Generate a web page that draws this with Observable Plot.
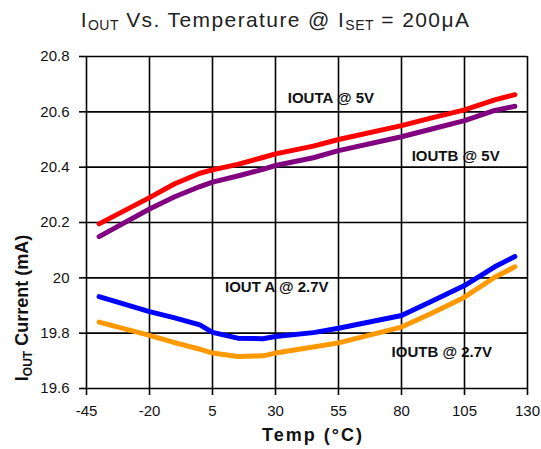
<!DOCTYPE html>
<html>
<head>
<meta charset="utf-8">
<script src="https://cdn.jsdelivr.net/npm/d3@7"></script>
<script src="https://cdn.jsdelivr.net/npm/@observablehq/plot@0.6"></script>
<style>
  html, body { margin: 0; padding: 0; background: #fff; }
  #wrap { width: 541px; }
  #title { box-sizing: border-box; height: 40px; padding-top: 9px; line-height: 21px;
    font-family: "Liberation Sans", Arial, sans-serif; font-size: 21px; color: #222;
    letter-spacing: 1.4px; text-align: center; padding-left: 10px; white-space: nowrap; }
  #title .sub { font-size: 14px; vertical-align: -3px; letter-spacing: 0.5px; }
</style>
</head>
<body>
<div id="wrap">
  <div id="title">I<span class="sub">OUT</span> Vs. Temperature @ I<span class="sub">SET</span> = 200μA</div>
  <div id="chart"></div>
</div>
<script>
const temps = [-40, -20, -10, 0, 5, 15, 25, 30, 45, 55, 80, 92, 105, 117, 125];
const ioutA5  = [20.195, 20.29, 20.34, 20.378, 20.39, 20.41, 20.435, 20.448, 20.476, 20.50, 20.55, 20.578, 20.607, 20.643, 20.662];
const ioutB5  = [20.149, 20.249, 20.293, 20.33, 20.346, 20.368, 20.392, 20.406, 20.434, 20.46, 20.51, 20.538, 20.568, 20.605, 20.62];
const ioutA27 = [19.932, 19.878, 19.855, 19.83, 19.803, 19.782, 19.78, 19.788, 19.802, 19.818, 19.864, 19.915, 19.972, 20.04, 20.077];
const ioutB27 = [19.84, 19.792, 19.766, 19.742, 19.728, 19.716, 19.718, 19.728, 19.75, 19.765, 19.822, 19.872, 19.93, 20.002, 20.04];
const seriesNames = ["IOUTA @ 5V", "IOUTB @ 5V", "IOUT A @ 2.7V", "IOUTB @ 2.7V"];
const seriesColors = ["#ff0000", "#800080", "#0000ff", "#ff9900"];
const seriesValues = [ioutA5, ioutB5, ioutA27, ioutB27];
const xTicks = [-45, -20, 5, 30, 55, 80, 105, 130];
const xTickLabels = ["-45", "-20", "5", "30", "55", "80", "105", "130"];
const yTicks = [19.6, 19.8, 20.0, 20.2, 20.4, 20.6, 20.8];
const yTickLabels = ["19.6", "19.8", "20", "20.2", "20.4", "20.6", "20.8"];
// annotation label positions (data coords)
const labelTemps = [52, 101.5, 30.5, 96];
const labelValues = [20.648, 20.438, 19.965, 19.733];

const data = seriesNames.flatMap((name, s) =>
  temps.map((t, i) => ({t, v: seriesValues[s][i], name, color: seriesColors[s]})));
const labels = seriesNames.map((name, i) => ({name, t: labelTemps[i], v: labelValues[i]}));

const svg = Plot.plot({
  width: 541, height: 409,
  marginTop: 16, marginBottom: 61, marginLeft: 86, marginRight: 14,
  style: {fontFamily: "'Liberation Sans', Arial, sans-serif", fontSize: "15px", color: "#000", background: "#fff"},
  x: {domain: [-45, 130]},
  y: {domain: [19.6, 20.8]},
  color: {type: "identity"},
  marks: [
    Plot.gridX(xTicks, {stroke: "#000", strokeOpacity: 1, strokeWidth: 1.6}),
    Plot.gridY(yTicks, {stroke: "#000", strokeOpacity: 1, strokeWidth: 1.6}),
    Plot.axisX(xTicks, {tickSize: 7, tickPadding: 10, strokeWidth: 1.6, label: null, fill: "#111",
      tickFormat: d => xTickLabels[xTicks.indexOf(d)], style: "letter-spacing:-0.6px"}),
    Plot.axisY(yTicks, {tickSize: 7, tickPadding: 10, strokeWidth: 1.6, label: null, fill: "#111",
      tickFormat: d => yTickLabels[yTicks.indexOf(d)], style: "letter-spacing:-0.6px"}),
    Plot.line(data, {x: "t", y: "v", z: "name", stroke: "color", strokeWidth: 5, strokeLinecap: "round", strokeLinejoin: "round"}),
    Plot.text(labels, {x: "t", y: "v", text: "name", fontWeight: "bold", fontSize: 15, fill: "#111", style: "letter-spacing:0.7px"})
  ]
});
document.getElementById("chart").appendChild(svg);

const s = d3.select(svg);
const ff = "'Liberation Sans', Arial, sans-serif";
// x label
s.append("text").attr("x", 313).attr("y", 401).attr("text-anchor", "middle")
  .attr("font-family", ff).attr("font-size", 18).attr("font-weight", "bold")
  .attr("letter-spacing", "2px").attr("fill", "#111").text("Temp (°C)");
// y label
const yl = s.append("text").attr("transform", "translate(28,268) rotate(-90)").attr("text-anchor", "middle")
  .attr("font-family", ff).attr("font-size", 18).attr("font-weight", "bold").attr("fill", "#111");
yl.append("tspan").text("I");
yl.append("tspan").attr("font-size", 12).attr("dy", 4).text("OUT");
yl.append("tspan").attr("dy", -4).text(" Current (mA)");
</script>
</body>
</html>
